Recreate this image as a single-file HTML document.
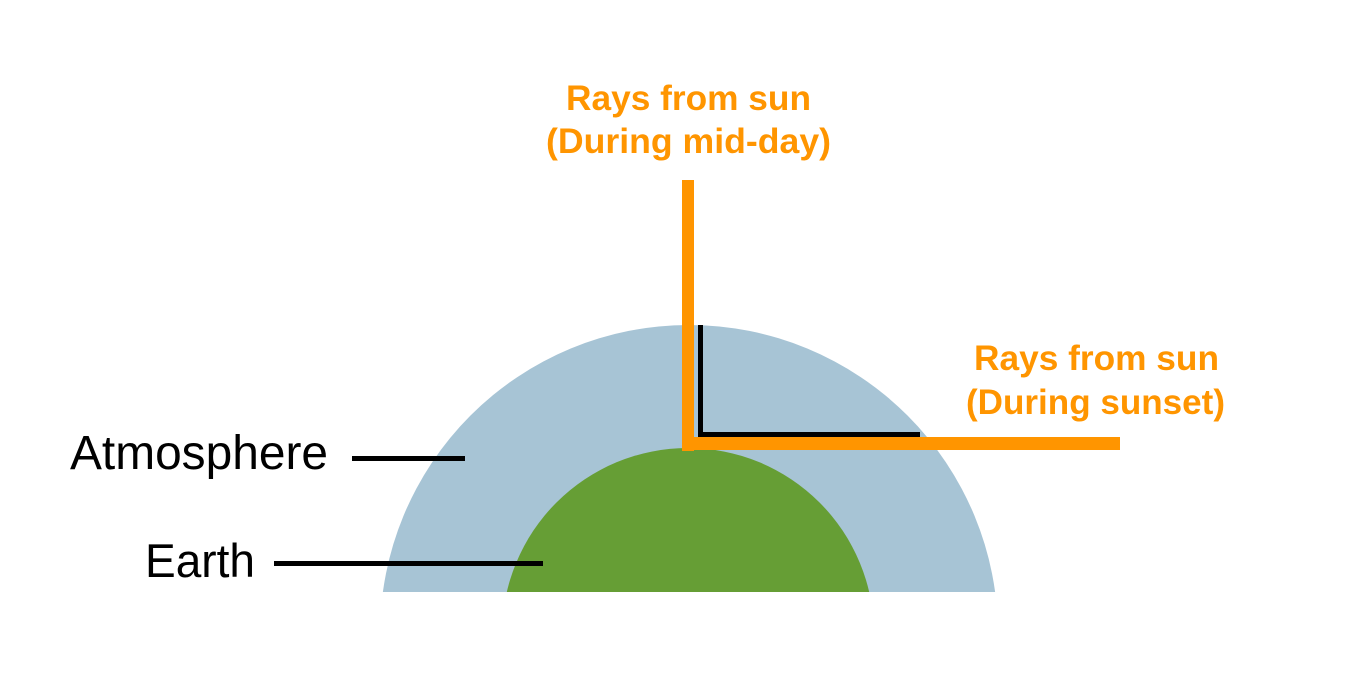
<!DOCTYPE html>
<html><head><meta charset="utf-8"><style>
html,body{margin:0;padding:0;background:#fff;width:1366px;height:692px;overflow:hidden;}
svg{display:block;}
text{font-family:"Liberation Sans",sans-serif;}
</style></head><body>
<svg width="1366" height="692" viewBox="0 0 1366 692">
  <clipPath id="cut"><rect x="0" y="0" width="1366" height="592"/></clipPath>
  <g clip-path="url(#cut)">
    <circle cx="689" cy="634" r="309" fill="#a7c4d5"/>
    <circle cx="688" cy="634" r="186" fill="#669e35"/>
  </g>
  <rect x="698" y="325" width="5" height="112" fill="#000"/>
  <rect x="698" y="432" width="222" height="5" fill="#000"/>
  <rect x="682" y="180" width="12" height="271" fill="#ff9500"/>
  <rect x="682" y="437" width="438" height="13" fill="#ff9500"/>
  <text x="566" y="110" textLength="245" lengthAdjust="spacingAndGlyphs" font-size="35" font-weight="bold" fill="#ff9500">Rays from sun</text>
  <text x="546" y="153" textLength="285" lengthAdjust="spacingAndGlyphs" font-size="35" font-weight="bold" fill="#ff9500">(During mid-day)</text>
  <text x="974" y="370" textLength="245" lengthAdjust="spacingAndGlyphs" font-size="35" font-weight="bold" fill="#ff9500">Rays from sun</text>
  <text x="966" y="414" textLength="259" lengthAdjust="spacingAndGlyphs" font-size="35" font-weight="bold" fill="#ff9500">(During sunset)</text>
  <text x="70" y="469" textLength="258" lengthAdjust="spacingAndGlyphs" font-size="48" fill="#000">Atmosphere</text>
  <rect x="352" y="456" width="113" height="5" fill="#000"/>
  <text x="145" y="577" textLength="110" lengthAdjust="spacingAndGlyphs" font-size="47" fill="#000">Earth</text>
  <rect x="274" y="561" width="269" height="5" fill="#000"/>
</svg>
</body></html>
